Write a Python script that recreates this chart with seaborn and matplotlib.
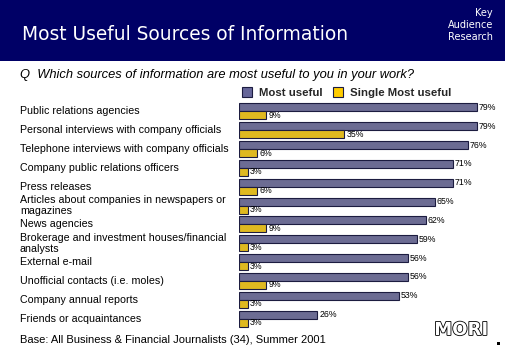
import matplotlib
matplotlib.use("Agg")
import matplotlib.pyplot as plt
import matplotlib.transforms as mtransforms
import matplotlib.patheffects as pe
from matplotlib.patches import Rectangle, Patch
import pandas as pd
import seaborn as sns

# ---- data -------------------------------------------------------------
sources = [
    "Public relations agencies",
    "Personal interviews with company officials",
    "Telephone interviews with company officials",
    "Company public relations officers",
    "Press releases",
    "Articles about companies in newspapers or\nmagazines",
    "News agencies",
    "Brokerage and investment houses/financial\nanalysts",
    "External e-mail",
    "Unofficial contacts (i.e. moles)",
    "Company annual reports",
    "Friends or acquaintances",
]
most_useful = [79, 79, 76, 71, 71, 65, 62, 59, 56, 56, 53, 26]
single_most_useful = [9, 35, 6, 3, 6, 3, 9, 3, 3, 9, 3, 3]
series_names = ["Most useful", "Single Most useful"]

NAVY = "#000066"
PURPLE = "#666699"
YELLOW = "#FFCC00"
EDGE = "#1c1c40"

df = pd.DataFrame({
    "source": sources * 2,
    "pct": most_useful + single_most_useful,
    "series": [series_names[0]] * len(sources) + [series_names[1]] * len(sources),
})

sns.set_theme(style="white")
plt.rcParams["font.family"] = ["Liberation Sans", "DejaVu Sans"]

W, H = 505, 349
fig = plt.figure(figsize=(W / 100, H / 100), dpi=100)
fig.patch.set_facecolor("white")


def fx(px):
    return px / W


def fy(py):
    return 1 - py / H


# ---- header band ----------------------------------------------------------
fig.patches.append(Rectangle((0, fy(61)), 1, 61 / H, transform=fig.transFigure,
                             facecolor=NAVY, edgecolor="none", zorder=0))
fig.text(fx(22), fy(35), "Most Useful Sources of Information", color="white",
         fontsize=13.4, va="center", ha="left", family=["DejaVu Sans"])
for txt, yy in [("Key", 13), ("Audience", 25), ("Research", 37)]:
    fig.text(fx(493), fy(yy), txt, color="white", fontsize=7, ha="right",
             va="center", family=["DejaVu Sans"])

fig.text(fx(20), fy(75), "Q  Which sources of information are most useful to you in your work?",
         fontsize=9.3, style="italic", ha="left", va="center", color="black")

# ---- bar chart ---------------------------------------------------------
ax_left, ax_right = 239, 505
ax_top, ax_bottom = 100, 330
ax = fig.add_axes([fx(ax_left), fy(ax_bottom), (ax_right - ax_left) / W,
                   (ax_bottom - ax_top) / H])
sns.barplot(data=df, y="source", x="pct", hue="series", orient="h",
            palette=[PURPLE, YELLOW], width=0.85, edgecolor=EDGE,
            linewidth=0.8, legend=False, ax=ax)
ax.set_xlim(0, (ax_right - ax_left) / 3.01)
ax.set_ylim(len(sources) - 0.4, -0.6)
ax.set_axis_off()

for cont in ax.containers:
    ax.bar_label(cont, fmt="%d%%", padding=1.5, fontsize=6.3, color="black")

# category labels, left aligned in the margin
trans = mtransforms.blended_transform_factory(fig.transFigure, ax.transData)
for i, name in enumerate(sources):
    fig.text(fx(20), i, name, transform=trans, fontsize=7.7, ha="left",
             va="center", color="black", linespacing=1.1)

# legend
handles = [Patch(facecolor=PURPLE, edgecolor=EDGE, linewidth=0.8),
           Patch(facecolor=YELLOW, edgecolor=EDGE, linewidth=0.8)]
fig.legend(handles, series_names, ncol=2, loc="center left",
           bbox_to_anchor=(fx(242), fy(92.5)), frameon=False,
           prop={"weight": "bold", "size": 8.2}, handlelength=0.9,
           handleheight=0.9, handletextpad=0.6, columnspacing=0.9,
           borderaxespad=0, borderpad=0)

# ---- footer -----------------------------------------------------------
fig.text(fx(20), fy(340), "Base: All Business & Financial Journalists (34), Summer 2001",
         fontsize=8.0, ha="left", va="center", color="black")
fig.text(fx(461), fy(330), "MORI", fontsize=13, weight="bold", color="white",
         ha="center", va="center", family=["DejaVu Sans"],
         path_effects=[pe.withStroke(linewidth=1.2, foreground="black")])
fig.patches.append(Rectangle((fx(497), fy(345)), 3 / W, 3 / H,
                             transform=fig.transFigure, facecolor="black",
                             edgecolor="none"))

fig.savefig("out.png", dpi=100)
